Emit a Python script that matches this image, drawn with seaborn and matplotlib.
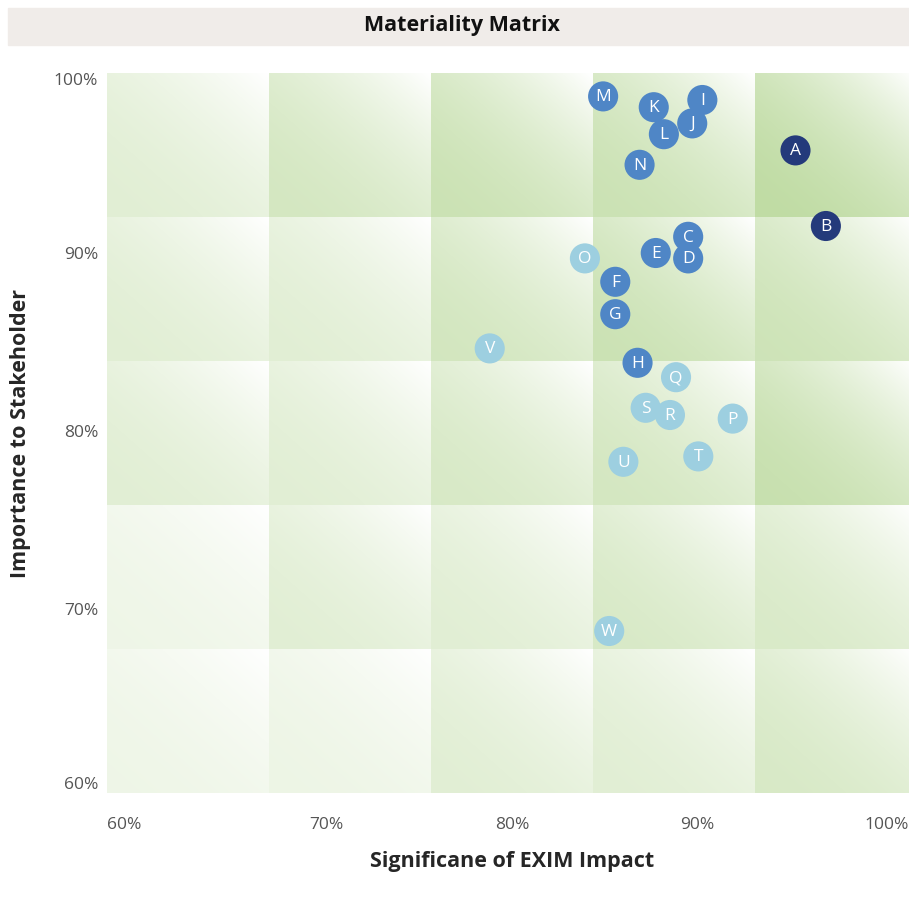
import numpy as np
import pandas as pd
import matplotlib
matplotlib.use('Agg')
import matplotlib.pyplot as plt
import seaborn as sns

# topics
labels = ['A', 'B', 'C', 'D', 'E', 'F', 'G', 'H', 'I', 'J', 'K', 'L',
          'M', 'N', 'O', 'P', 'Q', 'R', 'S', 'T', 'U', 'V', 'W']
impact = [94.0, 95.5, 88.7, 88.7, 87.1, 85.1, 85.1, 86.2, 89.4, 88.9,
          87.0, 87.5, 84.5, 86.3, 83.6, 90.9, 88.1, 87.8, 86.6, 89.2,
          85.5, 78.9, 84.8]
importance = [95.7, 91.5, 90.9, 89.7, 90.0, 88.4, 86.6, 83.9, 98.5, 97.2,
              98.1, 96.6, 98.7, 94.9, 89.7, 80.8, 83.1, 81.0, 81.4, 78.7,
              78.4, 84.7, 69.0]
group = ['top'] * 2 + ['high'] * 12 + ['medium'] * 9

x_ticks = [60, 70, 80, 90, 100]
y_ticks = [60, 70, 80, 90, 100]

# background shading level per cell, top row first
cell_levels = [
    [0.47, 0.68, 0.82, 0.82, 1.00],
    [0.47, 0.47, 0.70, 0.82, 0.78],
    [0.47, 0.47, 0.62, 0.68, 0.88],
    [0.26, 0.47, 0.47, 0.62, 0.60],
    [0.26, 0.28, 0.47, 0.47, 0.62],
]

palette = {'top': '#243a7b', 'high': '#4f86c6', 'medium': '#9dcfe0'}


def main():
    df = data()
    plot(df)


def data():
    df = pd.DataFrame({'label': labels, 'impact': impact,
                       'importance': importance, 'group': group})
    return df


def background(ax):
    green = np.array([0xc0, 0xdc, 0xa4]) / 255.0
    white = np.ones(3)
    n = 80
    u, v = np.meshgrid(np.linspace(0, 1, n), np.linspace(1, 0, n))
    fade = ((u + v) / 2) ** 2
    edges = np.linspace(60, 100, 6)
    for r, row in enumerate(cell_levels):
        y_top = edges[5 - r]
        y_bot = edges[4 - r]
        for c, lvl in enumerate(row):
            base = white + (green - white) * lvl
            img = base[None, None, :] + (white - base)[None, None, :] * fade[:, :, None]
            ax.imshow(img, extent=(edges[c], edges[c + 1], y_bot, y_top),
                      aspect='auto', zorder=0, interpolation='bilinear')


def plot(df):
    sns.set_style('white')
    plt.rcParams['font.family'] = ['Open Sans', 'DejaVu Sans']

    fig = plt.figure(figsize=(9.09, 8.98), dpi=100)
    # the plot runs a little past the right edge of the picture, as in the original
    ax = fig.add_axes([107 / 909, 105 / 898, 810 / 909, 720 / 898])

    background(ax)

    sns.scatterplot(data=df, x='impact', y='importance', hue='group',
                    palette=palette, s=470, linewidth=0, legend=False,
                    ax=ax, zorder=3)
    for _, row in df.iterrows():
        ax.text(row['impact'], row['importance'] - 0.05, row['label'],
                color='white', fontsize=12.5, ha='center', va='center',
                zorder=4)

    ax.set_xlim(60, 100)
    ax.set_ylim(60, 100)
    ax.set_xticks([])
    ax.set_yticks([])
    for s in ax.spines.values():
        s.set_visible(False)

    # tick labels, the outer ones kept inside the picture
    x_align = ['left', 'left', 'center', 'right', 'right']
    x_pos = [60, 70, 80, 90, 99.6]
    for t, xp, ha in zip(x_ticks, x_pos, x_align):
        ax.text(xp, -0.045, f'{t}%', transform=ax.get_xaxis_transform(),
                ha=ha, va='center', fontsize=12.5, color='#555555')
    y_align = ['bottom', 'center', 'center', 'center', 'top']
    y_shift = [0, 0.1, 0, -0.1, 0]
    for t, va, dy in zip(y_ticks, y_align, y_shift):
        ax.text(-0.011, t + dy, f'{t}%', transform=ax.get_yaxis_transform(),
                ha='right', va=va, fontsize=12.5, color='#555555')

    ax.set_xlabel('Significane of EXIM Impact', fontsize=15.5,
                  fontweight='bold', labelpad=42)
    ax.set_ylabel('Importance to Stakeholder', fontsize=15.5,
                  fontweight='bold', labelpad=55)

    # title bar
    fig.patches.append(plt.Rectangle((8 / 909, 1 - 45 / 898), 901 / 909,
                                     37 / 898, transform=fig.transFigure,
                                     color='#f0ece9', zorder=0))
    fig.text(462 / 909, 1 - 25 / 898, 'Materiality Matrix', ha='center',
             va='center', fontsize=15.5, fontweight='bold', color='#111111')

    fig.savefig('out.png', dpi=100)


if __name__ == '__main__':
    main()
